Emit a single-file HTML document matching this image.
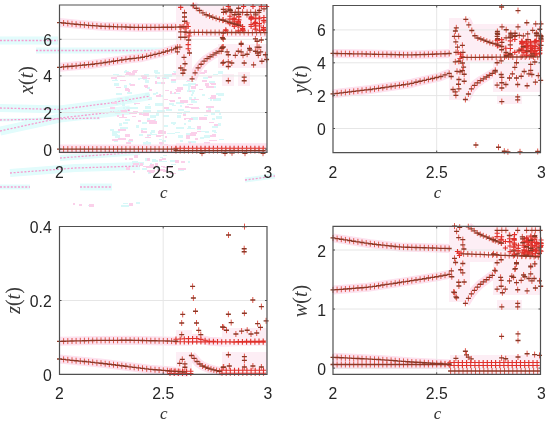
<!DOCTYPE html>
<html><head><meta charset="utf-8"><style>
html,body{margin:0;padding:0;background:#fff;width:550px;height:424px;overflow:hidden}
svg{display:block;filter:blur(0.3px)}
.t{font-family:"Liberation Sans",sans-serif;font-size:15.8px;fill:#262626}
.c{font-family:"Liberation Serif",serif;font-style:italic;font-size:17px;fill:#333}
.yl{font-family:"Liberation Serif",serif;font-size:20px;fill:#3a3a3a}
</style></head><body>
<svg width="550" height="424" viewBox="0 0 550 424">
<rect width="550" height="424" fill="#fff"/>
<path d="M0 108 L60 109.5 L110 103 L150 96" stroke="#e2fcfc" stroke-width="8" fill="none"/>
<path d="M0 131 L60 118 L96 114 L130 110" stroke="#e2fcfc" stroke-width="9" fill="none"/>
<path d="M0 120 L100 118" stroke="#e2fcfc" stroke-width="3" fill="none"/>
<path d="M36 50.5 L175 50.5" stroke="#e2fcfc" stroke-width="6" fill="none"/>
<path d="M0 40.5 L58 40.5" stroke="#e2fcfc" stroke-width="8" fill="none"/>
<path d="M60 158 L140 152" stroke="#e2fcfc" stroke-width="6" fill="none"/>
<path d="M10 173 L75 168 L140 166" stroke="#e2fcfc" stroke-width="8" fill="none"/>
<path d="M0 187 L30 187" stroke="#e2fcfc" stroke-width="5" fill="none"/>
<path d="M80 187 L112 187" stroke="#e2fcfc" stroke-width="7" fill="none"/>
<path d="M245 180 L275 176" stroke="#e2fcfc" stroke-width="5" fill="none"/>
<path d="M0 108 L60 109.5 L110 103 L150 96" stroke="#f59ccf" stroke-width="1.3" stroke-dasharray="2 1.6" fill="none"/>
<path d="M0 131 L60 118 L96 114 L130 110" stroke="#f59ccf" stroke-width="1.3" stroke-dasharray="2 1.6" fill="none"/>
<path d="M0 120 L100 118" stroke="#f59ccf" stroke-width="1.3" stroke-dasharray="2 1.6" fill="none"/>
<path d="M36 50.5 L175 50.5" stroke="#f59ccf" stroke-width="1.3" stroke-dasharray="2 1.6" fill="none"/>
<path d="M0 40.5 L58 40.5" stroke="#f59ccf" stroke-width="1.3" stroke-dasharray="2 1.6" fill="none"/>
<path d="M60 158 L140 152" stroke="#f59ccf" stroke-width="1.3" stroke-dasharray="2 1.6" fill="none"/>
<path d="M10 173 L75 168 L140 166" stroke="#f59ccf" stroke-width="1.3" stroke-dasharray="2 1.6" fill="none"/>
<path d="M0 187 L30 187" stroke="#f59ccf" stroke-width="1.3" stroke-dasharray="2 1.6" fill="none"/>
<path d="M80 187 L112 187" stroke="#f59ccf" stroke-width="1.3" stroke-dasharray="2 1.6" fill="none"/>
<path d="M245 180 L275 176" stroke="#f59ccf" stroke-width="1.3" stroke-dasharray="2 1.6" fill="none"/>
<path d="M200 131h8v1h-8zM123 107h2v2h-2zM173 71h6v1h-6zM212 130h4v2h-4zM180 105h2v2h-2zM197 145h2v2h-2zM129 146h8v2h-8zM117 98h6v2h-6zM130 107h8v2h-8zM215 98h4v1h-4zM150 115h6v3h-6zM180 144h2v2h-2zM149 97h3v3h-3zM175 132h5v1h-5zM158 147h4v1h-4zM144 95h6v1h-6zM191 94h2v2h-2zM194 97h2v2h-2zM122 103h3v3h-3zM218 123h3v3h-3zM162 140h4v2h-4zM178 109h6v2h-6zM174 71h4v2h-4zM215 110h5v2h-5zM204 143h3v2h-3zM187 128h8v1h-8zM128 140h5v2h-5zM132 73h3v3h-3zM156 92h2v2h-2zM219 113h2v2h-2zM216 93h4v2h-4zM156 113h3v3h-3zM127 100h5v2h-5zM180 140h3v2h-3zM165 147h4v2h-4zM112 80h6v1h-6zM176 127h8v2h-8zM186 133h4v2h-4zM173 123h2v2h-2zM112 131h8v2h-8zM204 135h6v3h-6zM187 104h4v1h-4zM126 107h5v2h-5zM169 103h5v2h-5zM193 91h2v1h-2zM148 104h2v1h-2zM115 135h5v3h-5zM186 81h8v1h-8zM115 78h2v2h-2zM127 119h3v2h-3zM139 113h6v2h-6zM200 137h4v2h-4zM124 71h5v2h-5zM208 107h3v3h-3zM125 119h5v2h-5zM147 118h3v2h-3zM213 98h8v3h-8zM191 101h6v2h-6zM145 106h6v3h-6zM114 140h4v2h-4zM123 122h5v2h-5zM188 83h8v2h-8zM183 84h8v2h-8zM192 91h2v3h-2zM212 126h6v2h-6zM213 74h5v1h-5zM155 75h2v3h-2zM144 74h5v3h-5zM188 120h3v2h-3zM214 132h3v1h-3zM206 87h3v1h-3zM163 115h6v2h-6zM188 141h8v2h-8zM171 81h5v2h-5zM145 80h4v3h-4zM145 94h5v2h-5zM113 74h6v1h-6zM124 85h3v3h-3zM191 77h3v2h-3zM146 141h2v2h-2zM216 116h6v3h-6zM189 97h3v3h-3zM202 94h3v2h-3zM114 83h5v3h-5zM166 109h6v2h-6zM167 133h8v1h-8zM184 111h6v1h-6zM143 142h8v3h-8zM163 77h6v2h-6zM154 70h4v3h-4zM212 118h3v2h-3zM138 78h2v2h-2zM155 103h8v3h-8zM157 82h4v2h-4zM157 95h6v2h-6zM188 75h8v2h-8zM149 134h8v1h-8zM156 112h2v2h-2zM125 70h2v2h-2zM153 93h3v2h-3zM172 93h8v1h-8zM116 102h2v3h-2zM150 132h2v3h-2zM162 77h5v1h-5zM164 74h8v3h-8zM112 133h5v3h-5zM134 103h2v2h-2zM142 122h5v2h-5zM119 123h3v3h-3zM112 134h6v1h-6zM147 87h3v2h-3zM140 78h8v1h-8zM211 113h4v2h-4zM164 125h3v2h-3zM136 125h3v3h-3zM172 105h4v1h-4zM218 93h6v3h-6zM179 74h8v1h-8zM125 97h4v3h-4zM210 99h2v2h-2zM197 127h4v3h-4zM154 119h2v2h-2zM208 98h6v1h-6zM113 103h8v1h-8zM191 117h2v1h-2zM143 110h8v3h-8zM124 129h2v2h-2zM110 129h4v2h-4zM157 110h8v3h-8zM212 83h3v2h-3zM209 81h6v2h-6zM171 122h5v2h-5zM143 78h4v2h-4zM164 125h4v2h-4zM115 146h6v2h-6zM187 90h8v2h-8zM145 93h4v1h-4zM117 75h5v1h-5zM122 102h2v3h-2zM184 123h2v2h-2zM119 148h2v1h-2zM141 128h6v2h-6zM193 117h5v3h-5zM188 126h3v3h-3zM176 90h2v2h-2zM116 93h6v2h-6zM151 130h4v3h-4zM110 145h3v1h-3zM183 112h3v3h-3zM115 112h5v2h-5zM129 83h2v2h-2zM213 86h3v2h-3zM126 74h6v1h-6zM188 86h3v1h-3zM135 70h2v2h-2zM191 100h4v2h-4zM188 87h2v3h-2zM155 72h5v2h-5zM177 112h5v2h-5zM218 71h5v3h-5zM198 108h2v1h-2zM120 127h8v2h-8zM205 131h4v2h-4zM114 111h8v1h-8zM127 92h5v2h-5zM143 77h2v3h-2zM219 139h5v1h-5zM147 134h2v3h-2zM139 134h4v2h-4zM204 115h4v1h-4zM176 102h8v2h-8zM159 139h3v1h-3zM177 115h4v3h-4zM191 73h5v2h-5zM183 73h4v3h-4zM178 135h5v3h-5zM203 77h5v2h-5zM150 163h2v3h-2zM145 158h2v3h-2zM132 161h6v3h-6zM178 170h6v1h-6zM156 160h2v2h-2zM188 161h2v2h-2zM170 160h8v2h-8zM171 164h5v1h-5zM149 165h2v2h-2zM148 172h3v2h-3zM159 161h8v1h-8zM160 157h3v1h-3zM142 168h5v2h-5zM138 162h6v3h-6zM163 155h4v1h-4zM152 159h4v3h-4zM157 167h2v2h-2zM89 204h2v1h-2zM88 205h3v1h-3zM136 202h4v2h-4zM121 205h8v2h-8zM123 203h5v1h-5z" fill="#d8f8f8"/>
<path d="M191 132h6v2h-6zM145 86h3v2h-3zM112 102h5v2h-5zM147 135h4v1h-4zM210 97h6v2h-6zM119 117h8v1h-8zM126 145h8v3h-8zM202 80h5v2h-5zM126 142h5v2h-5zM141 130h2v3h-2zM197 131h4v1h-4zM191 99h8v1h-8zM139 146h4v3h-4zM185 106h4v2h-4zM147 120h8v2h-8zM211 83h5v2h-5zM143 113h6v3h-6zM132 116h4v1h-4zM195 84h3v2h-3zM175 89h5v1h-5zM178 97h3v2h-3zM122 114h2v3h-2zM164 107h5v2h-5zM176 90h5v2h-5zM156 95h5v2h-5zM126 72h5v2h-5zM142 131h5v2h-5zM170 91h2v3h-2zM165 136h2v2h-2zM206 106h8v2h-8zM130 84h5v2h-5zM117 115h2v2h-2zM111 77h6v2h-6zM149 121h5v3h-5zM120 80h6v1h-6zM169 100h6v1h-6zM192 77h5v2h-5zM125 134h5v3h-5zM133 73h2v2h-2zM110 107h5v2h-5zM118 138h8v2h-8zM171 79h5v2h-5zM214 124h4v2h-4zM184 118h2v2h-2zM128 89h2v3h-2zM129 73h5v3h-5zM199 146h3v1h-3zM165 90h4v1h-4zM208 76h4v2h-4zM209 122h5v1h-5zM158 135h6v1h-6zM189 91h2v1h-2zM141 75h5v2h-5zM205 143h4v3h-4zM160 143h3v2h-3zM159 130h5v2h-5zM133 70h5v1h-5zM149 89h3v2h-3zM155 81h2v3h-2zM206 86h8v2h-8zM186 136h4v3h-4zM187 78h3v3h-3zM199 72h6v2h-6zM158 131h8v3h-8zM120 98h2v1h-2zM118 129h8v2h-8zM186 135h4v2h-4zM210 83h4v1h-4zM183 114h3v2h-3zM157 77h3v2h-3zM145 137h6v1h-6zM204 70h3v3h-3zM148 99h2v1h-2zM190 133h6v3h-6zM129 139h4v2h-4zM164 144h4v1h-4zM201 149h2v1h-2zM126 146h8v1h-8zM170 100h5v2h-5zM201 72h3v2h-3zM116 87h5v1h-5zM204 142h6v3h-6zM134 103h6v1h-6zM144 85h4v2h-4zM132 71h5v2h-5zM125 88h4v3h-4zM139 113h3v2h-3zM199 89h4v1h-4zM174 92h2v2h-2zM121 110h6v3h-6zM172 73h6v2h-6zM212 134h4v3h-4zM186 118h5v1h-5zM177 87h6v3h-6zM152 121h5v3h-5zM161 82h4v2h-4zM148 78h2v1h-2zM162 78h4v1h-4zM140 114h5v1h-5zM133 111h5v1h-5zM211 95h5v2h-5zM125 74h6v1h-6zM159 142h5v2h-5zM138 120h3v2h-3zM205 83h4v3h-4zM133 72h2v1h-2zM206 110h5v3h-5zM156 135h5v2h-5zM189 118h4v2h-4zM180 100h8v3h-8zM159 94h2v2h-2zM197 126h4v3h-4zM129 140h3v1h-3zM142 76h5v3h-5zM199 117h8v3h-8zM112 139h6v2h-6zM195 138h3v2h-3zM191 86h5v3h-5zM131 112h8v1h-8zM189 104h4v1h-4zM129 112h8v2h-8zM189 107h2v1h-2zM164 99h4v1h-4zM191 107h8v2h-8zM209 140h8v1h-8zM210 135h2v2h-2zM189 142h2v3h-2zM117 76h8v1h-8zM169 148h3v2h-3zM181 161h4v2h-4zM147 158h3v3h-3zM140 163h3v3h-3zM162 158h4v2h-4zM126 167h4v3h-4zM133 171h2v2h-2zM129 158h4v2h-4zM125 158h2v2h-2zM164 170h4v2h-4zM134 155h4v3h-4zM163 167h3v1h-3zM161 166h4v1h-4zM164 167h8v1h-8zM143 166h6v1h-6zM147 170h8v2h-8zM133 163h6v2h-6zM163 171h3v1h-3zM159 159h3v2h-3zM175 160h4v3h-4zM149 171h5v2h-5zM170 173h6v1h-6zM146 166h8v2h-8zM178 168h8v2h-8zM157 169h8v2h-8zM150 164h4v2h-4zM155 163h3v3h-3zM79 204h3v2h-3zM73 203h2v2h-2zM89 204h5v3h-5zM129 203h4v3h-4z" fill="#fbd0ea"/>
<path d="M59.5 22.6 L80.0 24.6 L102.0 26.3 L138.0 27.4 L170.0 27.2 L186.0 26.8" fill="none" stroke="#fde2ef" stroke-width="9" stroke-linejoin="round"/>
<path d="M59.5 67.3 L90.0 64.5 L102.0 63.0 L130.0 58.7 L140.0 57.8 L160.0 53.2 L175.0 48.8 L182.0 46.3" fill="none" stroke="#fde2ef" stroke-width="9" stroke-linejoin="round"/>
<path d="M59.5 149.1 L176.0 149.1" fill="none" stroke="#fde2ef" stroke-width="9" stroke-linejoin="round"/>
<path d="M176.0 148.3 L267.0 148.3" fill="none" stroke="#fde2ef" stroke-width="10" stroke-linejoin="round"/>
<path d="M193.0 5.6 L196.0 8.0 L204.5 14.0 L214.0 17.7 L222.0 20.0 L232.0 23.0 L242.0 26.0" fill="none" stroke="#fde2ef" stroke-width="9" stroke-linejoin="round"/>
<path d="M186.0 32.4 L267.0 32.6" fill="none" stroke="#fde2ef" stroke-width="9" stroke-linejoin="round"/>
<path d="M192.1 78.9 L195.0 73.0 L198.6 67.1 L202.1 63.0 L205.7 59.5 L210.4 56.5 L215.1 53.6 L219.2 51.2 L221.6 50.0" fill="none" stroke="#fde2ef" stroke-width="9" stroke-linejoin="round"/>
<path d="M176 5H267V36H176Z" fill="#fdeef5" stroke="none"/>
<path d="M176 36H192V80H176Z" fill="#fdeef5" stroke="none"/>
<path d="M218 44H267V68H218Z" fill="#fdeef5" stroke="none"/>
<path d="M222 74H234V86H222Z" fill="#fdeef5" stroke="none"/>
<path d="M238 72H250V86H238Z" fill="#fdeef5" stroke="none"/>
<path d="M333.0 53.4 L370.0 54.1 L410.0 54.9 L430.0 54.3 L452.0 53.4" fill="none" stroke="#fde2ef" stroke-width="9" stroke-linejoin="round"/>
<path d="M333.0 93.8 L370.0 89.5 L410.0 83.8 L415.0 82.4 L440.0 76.8 L451.0 72.6" fill="none" stroke="#fde2ef" stroke-width="9" stroke-linejoin="round"/>
<path d="M463.0 57.4 L540.5 56.8" fill="none" stroke="#fde2ef" stroke-width="9" stroke-linejoin="round"/>
<path d="M465.8 19.3 L467.6 22.2 L469.5 26.4 L471.9 30.7 L473.8 34.9 L478.0 38.2 L482.7 39.6 L490.0 42.6 L496.6 44.2 L504.0 47.5" fill="none" stroke="#fde2ef" stroke-width="9" stroke-linejoin="round"/>
<path d="M465.4 99.5 L468.3 94.2 L471.3 88.9 L475.4 84.2 L481.3 80.0 L487.2 76.5 L493.1 73.0 L496.0 71.5" fill="none" stroke="#fde2ef" stroke-width="9" stroke-linejoin="round"/>
<path d="M449 18H470V100H449Z" fill="#fdeef5" stroke="none"/>
<path d="M470 24H541V62H470Z" fill="#fdeef5" stroke="none"/>
<path d="M493 62H541V92H493Z" fill="#fdeef5" stroke="none"/>
<path d="M497 95H522V104H497Z" fill="#fdeef5" stroke="none"/>
<path d="M59.5 341.3 L96.0 340.4 L130.0 340.2 L176.0 341.2" fill="none" stroke="#fde2ef" stroke-width="9" stroke-linejoin="round"/>
<path d="M176.0 339.2 L196.0 338.3 L209.0 341.2 L222.0 341.9 L267.0 341.0" fill="none" stroke="#fde2ef" stroke-width="9" stroke-linejoin="round"/>
<path d="M59.5 359.0 L102.3 363.3 L149.6 369.2 L178.0 371.6 L188.0 372.3" fill="none" stroke="#fde2ef" stroke-width="9" stroke-linejoin="round"/>
<path d="M222.0 370.3 L267.0 370.3" fill="none" stroke="#fde2ef" stroke-width="9" stroke-linejoin="round"/>
<path d="M191.4 355.5 L194.6 358.7 L197.9 362.6 L202.4 365.9 L208.9 368.5 L215.4 370.4 L221.9 371.7" fill="none" stroke="#fde2ef" stroke-width="9" stroke-linejoin="round"/>
<path d="M176 330H192V346H176Z" fill="#fdeef5" stroke="none"/>
<path d="M176 352H192V375H176Z" fill="#fdeef5" stroke="none"/>
<path d="M222 328H267V346H222Z" fill="#fdeef5" stroke="none"/>
<path d="M222 352H267V375H222Z" fill="#fdeef5" stroke="none"/>
<path d="M333.0 237.9 L370.0 243.7 L400.0 247.0 L452.0 248.6" fill="none" stroke="#fde2ef" stroke-width="9" stroke-linejoin="round"/>
<path d="M333.0 289.9 L367.8 287.3 L405.6 281.6 L440.0 276.2 L451.8 273.8" fill="none" stroke="#fde2ef" stroke-width="9" stroke-linejoin="round"/>
<path d="M333.0 357.3 L380.0 359.6 L412.0 362.0 L440.0 363.5 L450.0 364.0" fill="none" stroke="#fde2ef" stroke-width="9" stroke-linejoin="round"/>
<path d="M333.0 364.5 L450.0 364.5" fill="none" stroke="#fde2ef" stroke-width="9" stroke-linejoin="round"/>
<path d="M450.0 362.5 L540.5 362.5" fill="none" stroke="#fde2ef" stroke-width="10" stroke-linejoin="round"/>
<path d="M450.6 371.0 L540.5 371.0" fill="none" stroke="#fde2ef" stroke-width="5" stroke-linejoin="round"/>
<path d="M463.6 253.8 L540.5 256.8" fill="none" stroke="#fde2ef" stroke-width="9" stroke-linejoin="round"/>
<path d="M468.3 226.7 L471.8 229.1 L476.6 232.6 L481.3 235.0 L487.2 237.3 L494.2 240.3 L504.0 244.0" fill="none" stroke="#fde2ef" stroke-width="9" stroke-linejoin="round"/>
<path d="M465.4 303.3 L468.3 298.6 L471.8 293.3 L475.4 289.1 L480.1 284.4 L484.8 280.9 L489.5 277.3 L493.7 274.4" fill="none" stroke="#fde2ef" stroke-width="9" stroke-linejoin="round"/>
<path d="M449 226H470V302H449Z" fill="#fdeef5" stroke="none"/>
<path d="M470 227H541V262H470Z" fill="#fdeef5" stroke="none"/>
<path d="M493 262H541V295H493Z" fill="#fdeef5" stroke="none"/>
<path d="M497 300H522V310H497Z" fill="#fdeef5" stroke="none"/>
<path d="M450 355H541V375H450Z" fill="#fdeef5" stroke="none"/>
<path d="M59.5 39.3H267.0 M59.5 75.9H267.0 M59.5 112.5H267.0 M59.5 149.1H267.0 M163.2 5.0V152.3" stroke="#e6e6e6" stroke-width="1" fill="none"/>
<path d="M333.0 29.9H540.5 M333.0 62.8H540.5 M333.0 95.6H540.5 M333.0 128.5H540.5 M436.7 5.5V152.6" stroke="#e6e6e6" stroke-width="1" fill="none"/>
<path d="M59.5 300.5H267.0 M163.2 226.5V374.4" stroke="#e6e6e6" stroke-width="1" fill="none"/>
<path d="M333.0 250.0H540.5 M333.0 309.0H540.5 M333.0 368.1H540.5 M436.7 226.4V374.3" stroke="#e6e6e6" stroke-width="1" fill="none"/>
<path d="M173.4 148.3h5.2M176.0 145.7v5.2M177.6 148.3h5.2M180.2 145.7v5.2M181.7 148.3h5.2M184.3 145.7v5.2M185.9 148.3h5.2M188.5 145.7v5.2M190.0 148.3h5.2M192.6 145.7v5.2M194.2 148.3h5.2M196.8 145.7v5.2M198.3 148.3h5.2M200.9 145.7v5.2M202.5 148.3h5.2M205.1 145.7v5.2M206.6 148.3h5.2M209.2 145.7v5.2M210.8 148.3h5.2M213.4 145.7v5.2M214.9 148.3h5.2M217.5 145.7v5.2M219.1 148.3h5.2M221.7 145.7v5.2M223.2 148.3h5.2M225.8 145.7v5.2M227.4 148.3h5.2M230.0 145.7v5.2M231.5 148.3h5.2M234.1 145.7v5.2M235.7 148.3h5.2M238.3 145.7v5.2M239.8 148.3h5.2M242.4 145.7v5.2M244.0 148.3h5.2M246.6 145.7v5.2M248.1 148.3h5.2M250.7 145.7v5.2M252.3 148.3h5.2M254.9 145.7v5.2M256.4 148.3h5.2M259.0 145.7v5.2M260.6 148.3h5.2M263.2 145.7v5.2M178.1 7.4h5.2M180.7 4.8v5.2M190.9 5.3h5.2M193.5 2.7v5.2M185.6 26.5h5.2M188.2 23.9v5.2M186.6 32.9h5.2M189.2 30.3v5.2M185.6 44.6h5.2M188.2 42.0v5.2M185.6 48.8h5.2M188.2 46.2v5.2M183.4 28.0h5.2M186.0 25.4v5.2M180.4 26.5h5.2M183.0 23.9v5.2M184.4 23.0h5.2M187.0 20.4v5.2M178.4 27.0h5.2M181.0 24.4v5.2M186.4 36.0h5.2M189.0 33.4v5.2M261.4 22.0h5.2M264.0 19.4v5.2M240.1 30.4h5.2M242.7 27.8v5.2M223.2 29.9h5.2M225.8 27.3v5.2M223.4 30.7h5.2M226.0 28.1v5.2M248.5 24.5h5.2M251.1 21.9v5.2M236.2 20.0h5.2M238.8 17.4v5.2M227.4 16.2h5.2M230.0 13.6v5.2M248.8 17.8h5.2M251.4 15.2v5.2M236.2 16.2h5.2M238.8 13.6v5.2M253.0 18.7h5.2M255.6 16.1v5.2M256.8 23.6h5.2M259.4 21.0v5.2M231.7 21.8h5.2M234.3 19.2v5.2M248.5 19.2h5.2M251.1 16.6v5.2M240.5 30.6h5.2M243.1 28.0v5.2M261.0 29.3h5.2M263.6 26.7v5.2M235.7 30.9h5.2M238.3 28.3v5.2M261.3 17.5h5.2M263.9 14.9v5.2M231.6 19.9h5.2M234.2 17.3v5.2M261.1 20.4h5.2M263.7 17.8v5.2M227.3 19.1h5.2M229.9 16.5v5.2M235.6 21.5h5.2M238.2 18.9v5.2M261.2 30.4h5.2M263.8 27.8v5.2M253.1 18.0h5.2M255.7 15.4v5.2M248.3 18.3h5.2M250.9 15.7v5.2M236.3 19.7h5.2M238.9 17.1v5.2M235.7 25.4h5.2M238.3 22.8v5.2M256.8 30.3h5.2M259.4 27.7v5.2M252.9 22.3h5.2M255.5 19.7v5.2M227.3 23.7h5.2M229.9 21.1v5.2M240.0 26.6h5.2M242.6 24.0v5.2M240.1 29.6h5.2M242.7 27.0v5.2M252.6 18.6h5.2M255.2 16.0v5.2M227.3 23.2h5.2M229.9 20.6v5.2M261.3 20.2h5.2M263.9 17.6v5.2M236.2 17.0h5.2M238.8 14.4v5.2M248.6 16.9h5.2M251.2 14.3v5.2M231.6 24.0h5.2M234.2 21.4v5.2M231.5 18.1h5.2M234.1 15.5v5.2M253.2 25.9h5.2M255.8 23.3v5.2M257.1 18.1h5.2M259.7 15.5v5.2M231.7 23.5h5.2M234.3 20.9v5.2M252.6 29.1h5.2M255.2 26.5v5.2M231.5 18.9h5.2M234.1 16.3v5.2M235.8 21.7h5.2M238.4 19.1v5.2M235.3 24.3h5.2M237.9 21.7v5.2M231.7 26.5h5.2M234.3 23.9v5.2M240.0 28.5h5.2M242.6 25.9v5.2M252.1 23.4h5.2M254.7 20.8v5.2M235.9 22.8h5.2M238.5 20.2v5.2M231.7 24.6h5.2M234.3 22.0v5.2M256.5 18.1h5.2M259.1 15.5v5.2M235.3 25.4h5.2M237.9 22.8v5.2M248.5 26.4h5.2M251.1 23.8v5.2M256.9 26.0h5.2M259.5 23.4v5.2M260.8 27.6h5.2M263.4 25.0v5.2M235.6 23.9h5.2M238.2 21.3v5.2M225.7 6.5h5.2M228.3 3.9v5.2M241.0 6.5h5.2M243.6 3.9v5.2M250.4 6.5h5.2M253.0 3.9v5.2M258.7 6.5h5.2M261.3 3.9v5.2M264.0 6.5h5.2M266.6 3.9v5.2" stroke="#e0302a" stroke-width="1.1" fill="none"/>
<path d="M59.5 19.6v6.0M63.6 20.0v6.0M67.8 20.4v6.0M72.0 20.8v6.0M76.1 21.2v6.0M80.3 21.6v6.0M84.4 21.9v6.0M88.6 22.3v6.0M92.7 22.6v6.0M96.9 22.9v6.0M101.0 23.2v6.0M105.2 23.4v6.0M109.3 23.5v6.0M113.5 23.6v6.0M117.6 23.8v6.0M121.8 23.9v6.0M125.9 24.0v6.0M130.1 24.2v6.0M134.2 24.3v6.0M138.4 24.4v6.0M142.5 24.4v6.0M146.7 24.3v6.0M150.8 24.3v6.0M155.0 24.3v6.0M159.1 24.3v6.0M163.3 24.2v6.0M167.4 24.2v6.0M171.6 24.2v6.0M175.7 24.1v6.0M179.9 24.0v6.0M184.0 23.8v6.0M59.5 64.3v6.0M63.6 63.9v6.0M67.8 63.5v6.0M72.0 63.2v6.0M76.1 62.8v6.0M80.3 62.4v6.0M84.4 62.0v6.0M88.6 61.6v6.0M92.7 61.2v6.0M96.9 60.6v6.0M101.0 60.1v6.0M105.2 59.5v6.0M109.3 58.9v6.0M113.5 58.2v6.0M117.6 57.6v6.0M121.8 57.0v6.0M125.9 56.3v6.0M130.1 55.7v6.0M134.2 55.3v6.0M138.4 54.9v6.0M142.5 54.2v6.0M146.7 53.3v6.0M150.8 52.3v6.0M155.0 51.4v6.0M159.1 50.4v6.0M163.3 49.2v6.0M167.4 48.0v6.0M171.6 46.8v6.0M175.7 45.5v6.0M179.9 44.1v6.0M59.5 146.1v6.0M63.6 146.1v6.0M67.8 146.1v6.0M72.0 146.1v6.0M76.1 146.1v6.0M80.3 146.1v6.0M84.4 146.1v6.0M88.6 146.1v6.0M92.7 146.1v6.0M96.9 146.1v6.0M101.0 146.1v6.0M105.2 146.1v6.0M109.3 146.1v6.0M113.5 146.1v6.0M117.6 146.1v6.0M121.8 146.1v6.0M125.9 146.1v6.0M130.1 146.1v6.0M134.2 146.1v6.0M138.4 146.1v6.0M142.5 146.1v6.0M146.7 146.1v6.0M150.8 146.1v6.0M155.0 146.1v6.0M159.1 146.1v6.0M163.3 146.1v6.0M167.4 146.1v6.0M171.6 146.1v6.0M175.7 146.1v6.0M202.0 150.2v6.0M225.0 150.2v6.0M245.0 150.2v6.0M263.0 150.2v6.0M232.0 149.8v6.0M176.0 147.6v6.0M180.2 147.6v6.0M184.3 147.6v6.0M188.5 147.6v6.0M192.6 147.6v6.0M196.8 147.6v6.0M200.9 147.6v6.0M205.1 147.6v6.0M209.2 147.6v6.0M213.4 147.6v6.0M217.5 147.6v6.0M221.7 147.6v6.0M225.8 147.6v6.0M230.0 147.6v6.0M234.1 147.6v6.0M238.3 147.6v6.0M242.4 147.6v6.0M246.6 147.6v6.0M250.7 147.6v6.0M254.9 147.6v6.0M259.0 147.6v6.0M263.2 147.6v6.0M193.0 2.6v6.0M196.3 5.2v6.0M199.6 7.5v6.0M202.9 9.9v6.0M206.2 11.7v6.0M209.5 12.9v6.0M212.8 14.2v6.0M216.1 15.3v6.0M219.4 16.3v6.0M222.7 17.2v6.0M226.0 18.2v6.0M229.3 19.2v6.0M232.6 20.2v6.0M235.9 21.2v6.0M239.2 22.2v6.0M186.0 29.4v6.0M190.2 29.4v6.0M194.3 29.4v6.0M198.5 29.4v6.0M202.6 29.4v6.0M206.8 29.5v6.0M210.9 29.5v6.0M215.1 29.5v6.0M219.2 29.5v6.0M223.4 29.5v6.0M227.5 29.5v6.0M231.7 29.5v6.0M235.8 29.5v6.0M240.0 29.5v6.0M244.1 29.5v6.0M248.3 29.6v6.0M252.4 29.6v6.0M256.6 29.6v6.0M260.7 29.6v6.0M264.9 29.6v6.0M192.1 75.9v6.0M195.1 69.8v6.0M198.1 64.9v6.0M201.1 61.2v6.0M204.1 58.1v6.0M207.1 55.6v6.0M210.1 53.7v6.0M213.1 51.8v6.0M216.1 50.0v6.0M219.1 48.3v6.0M184.5 9.7v6.0M184.5 14.0v6.0M184.5 18.2v6.0M180.7 28.8v6.0M185.0 28.8v6.0M180.7 34.2v6.0M185.0 34.2v6.0M184.0 54.3v6.0M185.0 60.7v6.0M180.7 65.0v6.0M184.0 67.0v6.0M182.9 70.2v6.0M177.4 44.1v6.0M177.4 48.8v6.0M188.6 37.0v6.0M189.5 50.0v6.0M222.2 44.7v6.0M222.8 60.0v6.0M223.3 6.4v6.0M223.3 17.0v6.0M223.3 30.0v6.0M223.3 36.0v6.0M223.3 44.0v6.0M255.7 11.9v6.0M255.4 11.8v6.0M238.3 9.1v6.0M264.0 5.8v6.0M242.5 9.3v6.0M226.1 8.2v6.0M255.5 9.9v6.0M234.5 11.7v6.0M229.8 6.5v6.0M238.7 11.2v6.0M247.0 11.7v6.0M259.4 7.4v6.0M226.1 8.7v6.0M242.7 9.4v6.0M230.4 7.5v6.0M238.6 5.2v6.0M223.5 9.3v6.0M231.8 9.3v6.0M235.3 9.3v6.0M247.1 9.3v6.0M250.7 9.3v6.0M255.4 9.3v6.0M258.9 9.3v6.0M222.4 34.7v6.0M241.2 41.2v6.0M222.4 44.2v6.0M255.4 35.9v6.0M259.0 44.2v6.0M249.5 45.3v6.0M221.8 45.3v6.0M221.2 48.2v6.0M227.1 48.8v6.0M228.3 51.7v6.0M223.5 59.4v6.0M228.3 58.8v6.0M231.8 60.0v6.0M228.3 63.5v6.0M228.3 77.7v6.0M235.3 52.3v6.0M238.3 48.2v6.0M241.2 48.8v6.0M243.0 52.3v6.0M247.1 51.2v6.0M241.2 40.5v6.0M244.2 60.0v6.0M253.6 61.8v6.0M244.2 74.1v6.0M244.2 77.7v6.0M250.0 47.0v6.0M255.4 48.2v6.0M257.7 50.0v6.0M260.7 48.8v6.0M258.3 52.3v6.0M257.1 38.2v6.0M257.1 44.1v6.0M261.3 37.0v6.0M265.4 51.7v6.0M266.6 56.5v6.0M261.9 58.2v6.0" stroke="#e2574c" stroke-width="1.0" fill="none"/>
<path d="M57.0 22.6h5.0M61.1 23.0h5.0M65.3 23.4h5.0M69.5 23.8h5.0M73.6 24.2h5.0M77.8 24.6h5.0M81.9 24.9h5.0M86.1 25.3h5.0M90.2 25.6h5.0M94.4 25.9h5.0M98.5 26.2h5.0M102.7 26.4h5.0M106.8 26.5h5.0M111.0 26.6h5.0M115.1 26.8h5.0M119.3 26.9h5.0M123.4 27.0h5.0M127.6 27.2h5.0M131.7 27.3h5.0M135.9 27.4h5.0M140.0 27.4h5.0M144.2 27.3h5.0M148.3 27.3h5.0M152.5 27.3h5.0M156.6 27.3h5.0M160.8 27.2h5.0M164.9 27.2h5.0M169.1 27.2h5.0M173.2 27.1h5.0M177.4 27.0h5.0M181.5 26.8h5.0M57.0 67.3h5.0M61.1 66.9h5.0M65.3 66.5h5.0M69.5 66.2h5.0M73.6 65.8h5.0M77.8 65.4h5.0M81.9 65.0h5.0M86.1 64.6h5.0M90.2 64.2h5.0M94.4 63.6h5.0M98.5 63.1h5.0M102.7 62.5h5.0M106.8 61.9h5.0M111.0 61.2h5.0M115.1 60.6h5.0M119.3 60.0h5.0M123.4 59.3h5.0M127.6 58.7h5.0M131.7 58.3h5.0M135.9 57.9h5.0M140.0 57.2h5.0M144.2 56.3h5.0M148.3 55.3h5.0M152.5 54.4h5.0M156.6 53.4h5.0M160.8 52.2h5.0M164.9 51.0h5.0M169.1 49.8h5.0M173.2 48.5h5.0M177.4 47.1h5.0M57.0 149.1h5.0M61.1 149.1h5.0M65.3 149.1h5.0M69.5 149.1h5.0M73.6 149.1h5.0M77.8 149.1h5.0M81.9 149.1h5.0M86.1 149.1h5.0M90.2 149.1h5.0M94.4 149.1h5.0M98.5 149.1h5.0M102.7 149.1h5.0M106.8 149.1h5.0M111.0 149.1h5.0M115.1 149.1h5.0M119.3 149.1h5.0M123.4 149.1h5.0M127.6 149.1h5.0M131.7 149.1h5.0M135.9 149.1h5.0M140.0 149.1h5.0M144.2 149.1h5.0M148.3 149.1h5.0M152.5 149.1h5.0M156.6 149.1h5.0M160.8 149.1h5.0M164.9 149.1h5.0M169.1 149.1h5.0M173.2 149.1h5.0M199.5 153.2h5.0M222.5 153.2h5.0M242.5 153.2h5.0M260.5 153.2h5.0M229.5 152.8h5.0M173.5 150.6h5.0M177.7 150.6h5.0M181.8 150.6h5.0M186.0 150.6h5.0M190.1 150.6h5.0M194.3 150.6h5.0M198.4 150.6h5.0M202.6 150.6h5.0M206.7 150.6h5.0M210.9 150.6h5.0M215.0 150.6h5.0M219.2 150.6h5.0M223.3 150.6h5.0M227.5 150.6h5.0M231.6 150.6h5.0M235.8 150.6h5.0M239.9 150.6h5.0M244.1 150.6h5.0M248.2 150.6h5.0M252.4 150.6h5.0M256.5 150.6h5.0M260.7 150.6h5.0M190.5 5.6h5.0M193.8 8.2h5.0M197.1 10.5h5.0M200.4 12.9h5.0M203.7 14.7h5.0M207.0 15.9h5.0M210.3 17.2h5.0M213.6 18.3h5.0M216.9 19.3h5.0M220.2 20.2h5.0M223.5 21.2h5.0M226.8 22.2h5.0M230.1 23.2h5.0M233.4 24.2h5.0M236.7 25.2h5.0M183.5 32.4h5.0M187.7 32.4h5.0M191.8 32.4h5.0M196.0 32.4h5.0M200.1 32.4h5.0M204.3 32.5h5.0M208.4 32.5h5.0M212.6 32.5h5.0M216.7 32.5h5.0M220.9 32.5h5.0M225.0 32.5h5.0M229.2 32.5h5.0M233.3 32.5h5.0M237.5 32.5h5.0M241.6 32.5h5.0M245.8 32.6h5.0M249.9 32.6h5.0M254.1 32.6h5.0M258.2 32.6h5.0M262.4 32.6h5.0M189.6 78.9h5.0M192.6 72.8h5.0M195.6 67.9h5.0M198.6 64.2h5.0M201.6 61.1h5.0M204.6 58.6h5.0M207.6 56.7h5.0M210.6 54.8h5.0M213.6 53.0h5.0M216.6 51.3h5.0M182.0 12.7h5.0M182.0 17.0h5.0M182.0 21.2h5.0M178.2 31.8h5.0M182.5 31.8h5.0M178.2 37.2h5.0M182.5 37.2h5.0M181.5 57.3h5.0M182.5 63.7h5.0M178.2 68.0h5.0M181.5 70.0h5.0M180.4 73.2h5.0M174.9 47.1h5.0M174.9 51.8h5.0M186.1 40.0h5.0M187.0 53.0h5.0M219.7 47.7h5.0M220.3 63.0h5.0M220.8 9.4h5.0M220.8 20.0h5.0M220.8 33.0h5.0M220.8 39.0h5.0M220.8 47.0h5.0M253.2 14.9h5.0M252.9 14.8h5.0M235.8 12.1h5.0M261.5 8.8h5.0M240.0 12.3h5.0M223.6 11.2h5.0M253.0 12.9h5.0M232.0 14.7h5.0M227.3 9.5h5.0M236.2 14.2h5.0M244.5 14.7h5.0M256.9 10.4h5.0M223.6 11.7h5.0M240.2 12.4h5.0M227.9 10.5h5.0M236.1 8.2h5.0M221.0 12.3h5.0M229.3 12.3h5.0M232.8 12.3h5.0M244.6 12.3h5.0M248.2 12.3h5.0M252.9 12.3h5.0M256.4 12.3h5.0M219.9 37.7h5.0M238.7 44.2h5.0M219.9 47.2h5.0M252.9 38.9h5.0M256.5 47.2h5.0M247.0 48.3h5.0M219.3 48.3h5.0M218.7 51.2h5.0M224.6 51.8h5.0M225.8 54.7h5.0M221.0 62.4h5.0M225.8 61.8h5.0M229.3 63.0h5.0M225.8 66.5h5.0M225.8 80.7h5.0M232.8 55.3h5.0M235.8 51.2h5.0M238.7 51.8h5.0M240.5 55.3h5.0M244.6 54.2h5.0M238.7 43.5h5.0M241.7 63.0h5.0M251.1 64.8h5.0M241.7 77.1h5.0M241.7 80.7h5.0M247.5 50.0h5.0M252.9 51.2h5.0M255.2 53.0h5.0M258.2 51.8h5.0M255.8 55.3h5.0M254.6 41.2h5.0M254.6 47.1h5.0M258.8 40.0h5.0M262.9 54.7h5.0M264.1 59.5h5.0M259.4 61.2h5.0" stroke="#8a3826" stroke-width="1.35" fill="none"/>
<path d="M457.9 54.0h5.2M460.5 51.4v5.2M459.4 56.5h5.2M462.0 53.9v5.2M457.4 58.5h5.2M460.0 55.9v5.2M455.4 52.5h5.2M458.0 49.9v5.2M538.6 41.1h5.2M541.2 38.5v5.2M508.2 55.7h5.2M510.8 53.1v5.2M512.2 52.4h5.2M514.8 49.8v5.2M516.4 51.2h5.2M519.0 48.6v5.2M494.7 40.4h5.2M497.3 37.8v5.2M525.1 46.2h5.2M527.7 43.6v5.2M512.2 39.5h5.2M514.8 36.9v5.2M499.1 39.6h5.2M501.7 37.0v5.2M529.5 52.4h5.2M532.1 49.8v5.2M503.5 56.0h5.2M506.1 53.4v5.2M529.9 50.7h5.2M532.5 48.1v5.2M525.3 50.7h5.2M527.9 48.1v5.2M507.8 48.5h5.2M510.4 45.9v5.2M529.7 47.9h5.2M532.3 45.3v5.2M529.4 50.4h5.2M532.0 47.8v5.2M533.7 53.5h5.2M536.3 50.9v5.2M529.6 48.7h5.2M532.2 46.1v5.2M507.8 40.9h5.2M510.4 38.3v5.2M494.9 39.5h5.2M497.5 36.9v5.2M494.8 45.8h5.2M497.4 43.2v5.2M533.6 40.6h5.2M536.2 38.0v5.2M503.2 48.2h5.2M505.8 45.6v5.2M521.2 52.6h5.2M523.8 50.0v5.2M520.7 47.0h5.2M523.3 44.4v5.2M503.4 54.3h5.2M506.0 51.7v5.2M532.5 41.6h5.2M535.1 39.0v5.2M532.5 55.1h5.2M535.1 52.5v5.2M523.9 55.9h5.2M526.5 53.3v5.2M519.2 43.5h5.2M521.8 40.9v5.2M528.0 45.7h5.2M530.6 43.1v5.2M536.8 48.0h5.2M539.4 45.4v5.2M536.5 48.2h5.2M539.1 45.6v5.2M528.3 51.4h5.2M530.9 48.8v5.2M532.1 50.2h5.2M534.7 47.6v5.2M536.9 48.7h5.2M539.5 46.1v5.2M536.9 48.5h5.2M539.5 45.9v5.2M536.9 53.9h5.2M539.5 51.3v5.2M524.1 50.2h5.2M526.7 47.6v5.2M528.4 45.0h5.2M531.0 42.4v5.2M528.4 43.0h5.2M531.0 40.4v5.2M524.1 42.0h5.2M526.7 39.4v5.2M523.5 41.3h5.2M526.1 38.7v5.2M532.1 53.5h5.2M534.7 50.9v5.2M532.5 51.4h5.2M535.1 48.8v5.2M523.7 51.1h5.2M526.3 48.5v5.2M519.1 49.2h5.2M521.7 46.6v5.2M528.4 55.8h5.2M531.0 53.2v5.2M519.6 50.3h5.2M522.2 47.7v5.2M528.1 51.1h5.2M530.7 48.5v5.2M524.0 47.8h5.2M526.6 45.2v5.2M519.0 48.9h5.2M521.6 46.3v5.2M537.1 47.7h5.2M539.7 45.1v5.2M523.5 43.2h5.2M526.1 40.6v5.2M524.1 55.1h5.2M526.7 52.5v5.2M519.5 42.0h5.2M522.1 39.4v5.2M532.1 41.4h5.2M534.7 38.8v5.2M532.4 48.3h5.2M535.0 45.7v5.2M532.2 46.0h5.2M534.8 43.4v5.2M519.7 42.8h5.2M522.3 40.2v5.2M532.3 45.9h5.2M534.9 43.3v5.2M523.8 41.4h5.2M526.4 38.8v5.2M519.3 41.2h5.2M521.9 38.6v5.2M532.5 43.0h5.2M535.1 40.4v5.2M537.2 53.1h5.2M539.8 50.5v5.2M527.9 41.7h5.2M530.5 39.1v5.2M524.0 46.5h5.2M526.6 43.9v5.2M528.4 51.3h5.2M531.0 48.7v5.2M532.7 46.5h5.2M535.3 43.9v5.2M523.4 45.4h5.2M526.0 42.8v5.2M532.1 54.5h5.2M534.7 51.9v5.2M536.4 44.3h5.2M539.0 41.7v5.2M528.0 50.7h5.2M530.6 48.1v5.2M536.5 41.1h5.2M539.1 38.5v5.2M537.2 50.4h5.2M539.8 47.8v5.2M519.6 56.0h5.2M522.2 53.4v5.2M519.1 41.6h5.2M521.7 39.0v5.2M523.6 46.4h5.2M526.2 43.8v5.2M519.6 50.5h5.2M522.2 47.9v5.2M519.1 43.9h5.2M521.7 41.3v5.2M528.1 48.2h5.2M530.7 45.6v5.2" stroke="#e0302a" stroke-width="1.1" fill="none"/>
<path d="M333.0 50.4v6.0M337.1 50.5v6.0M341.3 50.6v6.0M345.4 50.6v6.0M349.6 50.7v6.0M353.7 50.8v6.0M357.9 50.9v6.0M362.0 50.9v6.0M366.2 51.0v6.0M370.3 51.1v6.0M374.5 51.2v6.0M378.6 51.3v6.0M382.8 51.4v6.0M386.9 51.4v6.0M391.1 51.5v6.0M395.2 51.6v6.0M399.4 51.7v6.0M403.5 51.8v6.0M407.7 51.9v6.0M411.8 51.8v6.0M416.0 51.7v6.0M420.1 51.6v6.0M424.3 51.5v6.0M428.4 51.3v6.0M432.6 51.2v6.0M436.7 51.0v6.0M440.9 50.9v6.0M445.0 50.7v6.0M449.2 50.5v6.0M333.0 90.8v6.0M337.1 90.3v6.0M341.3 89.8v6.0M345.4 89.4v6.0M349.6 88.9v6.0M353.7 88.4v6.0M357.9 87.9v6.0M362.0 87.4v6.0M366.2 86.9v6.0M370.3 86.5v6.0M374.5 85.9v6.0M378.6 85.3v6.0M382.8 84.7v6.0M386.9 84.1v6.0M391.1 83.5v6.0M395.2 82.9v6.0M399.4 82.3v6.0M403.5 81.7v6.0M407.7 81.1v6.0M411.8 80.3v6.0M416.0 79.2v6.0M420.1 78.2v6.0M424.3 77.3v6.0M428.4 76.4v6.0M432.6 75.5v6.0M436.7 74.5v6.0M440.9 73.5v6.0M445.0 71.9v6.0M449.2 70.3v6.0M463.0 54.4v6.0M467.1 54.4v6.0M471.3 54.3v6.0M475.4 54.3v6.0M479.6 54.3v6.0M483.7 54.2v6.0M487.9 54.2v6.0M492.0 54.2v6.0M496.2 54.1v6.0M500.3 54.1v6.0M504.5 54.1v6.0M508.6 54.0v6.0M512.8 54.0v6.0M516.9 54.0v6.0M521.1 54.0v6.0M525.2 53.9v6.0M529.4 53.9v6.0M533.5 53.9v6.0M537.7 53.8v6.0M465.8 16.3v6.0M468.8 21.9v6.0M471.8 27.5v6.0M474.8 32.7v6.0M477.8 35.0v6.0M480.8 36.0v6.0M483.8 37.1v6.0M486.8 38.3v6.0M489.8 39.5v6.0M492.8 40.3v6.0M495.8 41.0v6.0M498.8 42.2v6.0M501.8 43.5v6.0M465.4 96.5v6.0M468.4 91.0v6.0M471.4 85.8v6.0M474.4 82.3v6.0M477.4 79.8v6.0M480.4 77.6v6.0M483.4 75.8v6.0M486.4 74.0v6.0M489.4 72.2v6.0M492.4 70.4v6.0M495.4 68.8v6.0M456.3 24.8v6.0M455.4 28.0v6.0M455.8 38.8v6.0M457.5 44.1v6.0M456.0 49.4v6.0M455.3 58.8v6.0M458.9 58.2v6.0M457.0 68.3v6.0M458.9 76.5v6.0M458.5 81.2v6.0M458.9 85.9v6.0M462.4 42.3v6.0M463.0 49.4v6.0M462.4 60.0v6.0M463.6 64.1v6.0M462.4 67.6v6.0M464.2 71.2v6.0M464.2 78.2v6.0M454.4 33.3v6.0M458.7 33.3v6.0M453.0 86.5v6.0M455.3 88.8v6.0M455.9 92.4v6.0M451.2 73.5v6.0M460.0 68.8v6.0M458.9 58.2v6.0M501.6 4.0v6.0M518.0 7.6v6.0M502.0 23.8v6.0M506.2 26.7v6.0M518.0 23.8v6.0M526.8 19.7v6.0M535.7 20.8v6.0M541.0 20.8v6.0M497.4 28.5v6.0M532.7 27.3v6.0M539.8 26.2v6.0M514.9 32.6v6.0M510.8 30.2v6.0M536.7 32.7v6.0M497.3 30.4v6.0M536.3 30.6v6.0M519.3 32.4v6.0M510.3 33.8v6.0M510.6 34.7v6.0M510.8 32.0v6.0M536.9 30.9v6.0M506.1 34.9v6.0M497.6 35.7v6.0M515.1 30.2v6.0M527.7 30.9v6.0M523.4 32.9v6.0M540.8 35.0v6.0M536.5 30.0v6.0M497.2 33.4v6.0M541.1 33.2v6.0M514.9 33.2v6.0M540.6 32.5v6.0M497.6 31.2v6.0M506.3 52.7v6.0M501.7 46.7v6.0M541.0 42.3v6.0M501.9 39.4v6.0M527.7 48.1v6.0M527.9 36.6v6.0M510.3 41.9v6.0M532.2 52.9v6.0M506.0 49.5v6.0M510.1 51.9v6.0M523.2 43.7v6.0M541.2 36.1v6.0M532.3 50.9v6.0M519.1 47.1v6.0M510.1 50.7v6.0M497.1 59.7v6.0M501.2 57.9v6.0M516.5 59.7v6.0M530.7 61.4v6.0M534.8 59.0v6.0M495.3 67.3v6.0M514.8 64.4v6.0M524.2 68.5v6.0M530.7 67.3v6.0M501.2 71.5v6.0M501.8 74.4v6.0M512.4 70.9v6.0M509.5 75.0v6.0M516.5 75.0v6.0M521.2 73.2v6.0M528.9 70.9v6.0M531.9 71.5v6.0M538.3 72.6v6.0M540.7 77.4v6.0M497.1 82.1v6.0M501.8 79.7v6.0M505.9 81.5v6.0M501.8 85.0v6.0M517.7 81.5v6.0M527.1 82.7v6.0M535.4 79.1v6.0M517.7 93.9v6.0M517.7 96.8v6.0M501.8 98.6v6.0M475.9 142.0v6.0M498.5 144.2v6.0M504.3 148.2v6.0M507.9 148.8v6.0M520.0 148.8v6.0M537.7 148.5v6.0" stroke="#e2574c" stroke-width="1.0" fill="none"/>
<path d="M330.5 53.4h5.0M334.6 53.5h5.0M338.8 53.6h5.0M342.9 53.6h5.0M347.1 53.7h5.0M351.2 53.8h5.0M355.4 53.9h5.0M359.5 53.9h5.0M363.7 54.0h5.0M367.8 54.1h5.0M372.0 54.2h5.0M376.1 54.3h5.0M380.3 54.4h5.0M384.4 54.4h5.0M388.6 54.5h5.0M392.7 54.6h5.0M396.9 54.7h5.0M401.0 54.8h5.0M405.2 54.9h5.0M409.3 54.8h5.0M413.5 54.7h5.0M417.6 54.6h5.0M421.8 54.5h5.0M425.9 54.3h5.0M430.1 54.2h5.0M434.2 54.0h5.0M438.4 53.9h5.0M442.5 53.7h5.0M446.7 53.5h5.0M330.5 93.8h5.0M334.6 93.3h5.0M338.8 92.8h5.0M342.9 92.4h5.0M347.1 91.9h5.0M351.2 91.4h5.0M355.4 90.9h5.0M359.5 90.4h5.0M363.7 89.9h5.0M367.8 89.5h5.0M372.0 88.9h5.0M376.1 88.3h5.0M380.3 87.7h5.0M384.4 87.1h5.0M388.6 86.5h5.0M392.7 85.9h5.0M396.9 85.3h5.0M401.0 84.7h5.0M405.2 84.1h5.0M409.3 83.3h5.0M413.5 82.2h5.0M417.6 81.2h5.0M421.8 80.3h5.0M425.9 79.4h5.0M430.1 78.5h5.0M434.2 77.5h5.0M438.4 76.5h5.0M442.5 74.9h5.0M446.7 73.3h5.0M460.5 57.4h5.0M464.6 57.4h5.0M468.8 57.3h5.0M472.9 57.3h5.0M477.1 57.3h5.0M481.2 57.2h5.0M485.4 57.2h5.0M489.5 57.2h5.0M493.7 57.1h5.0M497.8 57.1h5.0M502.0 57.1h5.0M506.1 57.0h5.0M510.3 57.0h5.0M514.4 57.0h5.0M518.6 57.0h5.0M522.7 56.9h5.0M526.9 56.9h5.0M531.0 56.9h5.0M535.2 56.8h5.0M463.3 19.3h5.0M466.3 24.9h5.0M469.3 30.5h5.0M472.3 35.7h5.0M475.3 38.0h5.0M478.3 39.0h5.0M481.3 40.1h5.0M484.3 41.3h5.0M487.3 42.5h5.0M490.3 43.3h5.0M493.3 44.0h5.0M496.3 45.2h5.0M499.3 46.5h5.0M462.9 99.5h5.0M465.9 94.0h5.0M468.9 88.8h5.0M471.9 85.3h5.0M474.9 82.8h5.0M477.9 80.6h5.0M480.9 78.8h5.0M483.9 77.0h5.0M486.9 75.2h5.0M489.9 73.4h5.0M492.9 71.8h5.0M453.8 27.8h5.0M452.9 31.0h5.0M453.3 41.8h5.0M455.0 47.1h5.0M453.5 52.4h5.0M452.8 61.8h5.0M456.4 61.2h5.0M454.5 71.3h5.0M456.4 79.5h5.0M456.0 84.2h5.0M456.4 88.9h5.0M459.9 45.3h5.0M460.5 52.4h5.0M459.9 63.0h5.0M461.1 67.1h5.0M459.9 70.6h5.0M461.7 74.2h5.0M461.7 81.2h5.0M451.9 36.3h5.0M456.2 36.3h5.0M450.5 89.5h5.0M452.8 91.8h5.0M453.4 95.4h5.0M448.7 76.5h5.0M457.5 71.8h5.0M456.4 61.2h5.0M499.1 7.0h5.0M515.5 10.6h5.0M499.5 26.8h5.0M503.7 29.7h5.0M515.5 26.8h5.0M524.3 22.7h5.0M533.2 23.8h5.0M538.5 23.8h5.0M494.9 31.5h5.0M530.2 30.3h5.0M537.3 29.2h5.0M512.4 35.6h5.0M508.3 33.2h5.0M534.2 35.7h5.0M494.8 33.4h5.0M533.8 33.6h5.0M516.8 35.4h5.0M507.8 36.8h5.0M508.1 37.7h5.0M508.3 35.0h5.0M534.4 33.9h5.0M503.6 37.9h5.0M495.1 38.7h5.0M512.6 33.2h5.0M525.2 33.9h5.0M520.9 35.9h5.0M538.3 38.0h5.0M534.0 33.0h5.0M494.7 36.4h5.0M538.6 36.2h5.0M512.4 36.2h5.0M538.1 35.5h5.0M495.1 34.2h5.0M503.8 55.7h5.0M499.2 49.7h5.0M538.5 45.3h5.0M499.4 42.4h5.0M525.2 51.1h5.0M525.4 39.6h5.0M507.8 44.9h5.0M529.7 55.9h5.0M503.5 52.5h5.0M507.6 54.9h5.0M520.7 46.7h5.0M538.7 39.1h5.0M529.8 53.9h5.0M516.6 50.1h5.0M507.6 53.7h5.0M494.6 62.7h5.0M498.7 60.9h5.0M514.0 62.7h5.0M528.2 64.4h5.0M532.3 62.0h5.0M492.8 70.3h5.0M512.3 67.4h5.0M521.7 71.5h5.0M528.2 70.3h5.0M498.7 74.5h5.0M499.3 77.4h5.0M509.9 73.9h5.0M507.0 78.0h5.0M514.0 78.0h5.0M518.7 76.2h5.0M526.4 73.9h5.0M529.4 74.5h5.0M535.8 75.6h5.0M538.2 80.4h5.0M494.6 85.1h5.0M499.3 82.7h5.0M503.4 84.5h5.0M499.3 88.0h5.0M515.2 84.5h5.0M524.6 85.7h5.0M532.9 82.1h5.0M515.2 96.9h5.0M515.2 99.8h5.0M499.3 101.6h5.0M473.4 145.0h5.0M496.0 147.2h5.0M501.8 151.2h5.0M505.4 151.8h5.0M517.5 151.8h5.0M535.2 151.5h5.0" stroke="#8a3826" stroke-width="1.35" fill="none"/>
<path d="M173.4 339.2h5.2M176.0 336.6v5.2M177.6 339.0h5.2M180.2 336.4v5.2M181.7 338.8h5.2M184.3 336.2v5.2M185.9 338.6h5.2M188.5 336.0v5.2M190.0 338.5h5.2M192.6 335.9v5.2M194.2 338.5h5.2M196.8 335.9v5.2M198.3 339.4h5.2M200.9 336.8v5.2M202.5 340.3h5.2M205.1 337.7v5.2M206.6 341.2h5.2M209.2 338.6v5.2M210.8 341.4h5.2M213.4 338.8v5.2M214.9 341.7h5.2M217.5 339.1v5.2M219.1 341.9h5.2M221.7 339.3v5.2M223.2 341.8h5.2M225.8 339.2v5.2M227.4 341.7h5.2M230.0 339.1v5.2M231.5 341.7h5.2M234.1 339.1v5.2M235.7 341.6h5.2M238.3 339.0v5.2M239.8 341.5h5.2M242.4 338.9v5.2M244.0 341.4h5.2M246.6 338.8v5.2M248.1 341.3h5.2M250.7 338.7v5.2M252.3 341.2h5.2M254.9 338.6v5.2M256.4 341.2h5.2M259.0 338.6v5.2M260.6 341.1h5.2M263.2 338.5v5.2M173.4 341.8h5.2M176.0 339.2v5.2M177.6 341.8h5.2M180.2 339.2v5.2M181.7 341.8h5.2M184.3 339.2v5.2M185.9 341.9h5.2M188.5 339.3v5.2M190.0 341.9h5.2M192.6 339.3v5.2M194.2 341.9h5.2M196.8 339.3v5.2M198.3 341.9h5.2M200.9 339.3v5.2M202.5 341.9h5.2M205.1 339.3v5.2M206.6 341.9h5.2M209.2 339.3v5.2M210.8 342.0h5.2M213.4 339.4v5.2M214.9 342.0h5.2M217.5 339.4v5.2M219.1 342.0h5.2M221.7 339.4v5.2M223.2 342.0h5.2M225.8 339.4v5.2M227.4 342.0h5.2M230.0 339.4v5.2M231.5 342.1h5.2M234.1 339.5v5.2M235.7 342.1h5.2M238.3 339.5v5.2M239.8 342.1h5.2M242.4 339.5v5.2M244.0 342.1h5.2M246.6 339.5v5.2M248.1 342.1h5.2M250.7 339.5v5.2M252.3 342.1h5.2M254.9 339.5v5.2M256.4 342.2h5.2M259.0 339.6v5.2M260.6 342.2h5.2M263.2 339.6v5.2M167.4 371.2h5.2M170.0 368.6v5.2M171.6 371.2h5.2M174.2 368.6v5.2M175.7 371.2h5.2M178.3 368.6v5.2M179.9 371.2h5.2M182.5 368.6v5.2M184.0 371.2h5.2M186.6 368.6v5.2M188.2 371.2h5.2M190.8 368.6v5.2M167.4 373.5h5.2M170.0 370.9v5.2M171.6 373.5h5.2M174.2 370.9v5.2M175.7 373.5h5.2M178.3 370.9v5.2M179.9 373.5h5.2M182.5 370.9v5.2M184.0 373.5h5.2M186.6 370.9v5.2M188.2 373.5h5.2M190.8 370.9v5.2M219.4 370.3h5.2M222.0 367.7v5.2M223.6 370.3h5.2M226.2 367.7v5.2M227.7 370.3h5.2M230.3 367.7v5.2M231.9 370.3h5.2M234.5 367.7v5.2M236.0 370.3h5.2M238.6 367.7v5.2M240.2 370.3h5.2M242.8 367.7v5.2M244.3 370.3h5.2M246.9 367.7v5.2M248.5 370.3h5.2M251.1 367.7v5.2M252.6 370.3h5.2M255.2 367.7v5.2M256.8 370.3h5.2M259.4 367.7v5.2M260.9 370.3h5.2M263.5 367.7v5.2M219.4 373.2h5.2M222.0 370.6v5.2M223.6 373.2h5.2M226.2 370.6v5.2M227.7 373.2h5.2M230.3 370.6v5.2M231.9 373.2h5.2M234.5 370.6v5.2M236.0 373.2h5.2M238.6 370.6v5.2M240.2 373.2h5.2M242.8 370.6v5.2M244.3 373.2h5.2M246.9 370.6v5.2M248.5 373.2h5.2M251.1 370.6v5.2M252.6 373.2h5.2M255.2 370.6v5.2M256.8 373.2h5.2M259.4 370.6v5.2M260.9 373.2h5.2M263.5 370.6v5.2" stroke="#e0302a" stroke-width="1.1" fill="none"/>
<path d="M59.5 338.3v6.0M63.6 338.2v6.0M67.8 338.1v6.0M72.0 338.0v6.0M76.1 337.9v6.0M80.3 337.8v6.0M84.4 337.7v6.0M88.6 337.6v6.0M92.7 337.5v6.0M96.9 337.4v6.0M101.0 337.4v6.0M105.2 337.3v6.0M109.3 337.3v6.0M113.5 337.3v6.0M117.6 337.3v6.0M121.8 337.2v6.0M125.9 337.2v6.0M130.1 337.2v6.0M134.2 337.3v6.0M138.4 337.4v6.0M142.5 337.5v6.0M146.7 337.6v6.0M150.8 337.7v6.0M155.0 337.7v6.0M159.1 337.8v6.0M163.3 337.9v6.0M167.4 338.0v6.0M171.6 338.1v6.0M175.7 338.2v6.0M59.5 356.0v6.0M63.6 356.4v6.0M67.8 356.8v6.0M72.0 357.3v6.0M76.1 357.7v6.0M80.3 358.1v6.0M84.4 358.5v6.0M88.6 358.9v6.0M92.7 359.3v6.0M96.9 359.8v6.0M101.0 360.2v6.0M105.2 360.7v6.0M109.3 361.2v6.0M113.5 361.7v6.0M117.6 362.2v6.0M121.8 362.7v6.0M125.9 363.2v6.0M130.1 363.8v6.0M134.2 364.3v6.0M138.4 364.8v6.0M142.5 365.3v6.0M146.7 365.8v6.0M150.8 366.3v6.0M155.0 366.7v6.0M159.1 367.0v6.0M163.3 367.4v6.0M167.4 367.7v6.0M171.6 368.1v6.0M175.7 368.4v6.0M179.9 368.7v6.0M184.0 369.0v6.0M191.4 352.5v6.0M194.2 355.3v6.0M197.0 358.5v6.0M199.8 361.0v6.0M202.6 363.0v6.0M205.4 364.1v6.0M208.2 365.2v6.0M211.0 366.1v6.0M213.8 366.9v6.0M216.6 367.6v6.0M219.4 368.2v6.0M244.5 223.6v6.0M228.5 232.0v6.0M244.2 245.7v6.0M244.2 248.7v6.0M192.6 283.4v6.0M193.4 295.0v6.0M182.7 311.4v6.0M195.5 308.2v6.0M181.7 320.0v6.0M196.5 320.0v6.0M198.7 327.3v6.0M200.8 331.6v6.0M181.7 331.6v6.0M222.5 324.0v6.0M252.8 297.0v6.0M261.4 303.6v6.0M266.1 317.8v6.0M228.4 311.2v6.0M244.4 310.2v6.0M223.7 324.4v6.0M231.2 319.6v6.0M226.5 327.2v6.0M257.6 320.6v6.0M260.5 324.4v6.0M235.9 331.0v6.0M241.6 328.1v6.0M247.2 327.2v6.0M251.0 331.0v6.0M256.7 330.0v6.0M228.4 351.7v6.0M244.4 353.6v6.0M244.4 357.4v6.0M223.7 364.0v6.0M229.3 363.0v6.0M244.4 364.0v6.0M252.9 363.0v6.0M261.4 364.0v6.0M182.3 356.4v6.0M179.7 360.3v6.0M184.9 360.9v6.0M184.9 364.2v6.0M223.2 364.2v6.0" stroke="#e2574c" stroke-width="1.0" fill="none"/>
<path d="M57.0 341.3h5.0M61.1 341.2h5.0M65.3 341.1h5.0M69.5 341.0h5.0M73.6 340.9h5.0M77.8 340.8h5.0M81.9 340.7h5.0M86.1 340.6h5.0M90.2 340.5h5.0M94.4 340.4h5.0M98.5 340.4h5.0M102.7 340.3h5.0M106.8 340.3h5.0M111.0 340.3h5.0M115.1 340.3h5.0M119.3 340.2h5.0M123.4 340.2h5.0M127.6 340.2h5.0M131.7 340.3h5.0M135.9 340.4h5.0M140.0 340.5h5.0M144.2 340.6h5.0M148.3 340.7h5.0M152.5 340.7h5.0M156.6 340.8h5.0M160.8 340.9h5.0M164.9 341.0h5.0M169.1 341.1h5.0M173.2 341.2h5.0M57.0 359.0h5.0M61.1 359.4h5.0M65.3 359.8h5.0M69.5 360.3h5.0M73.6 360.7h5.0M77.8 361.1h5.0M81.9 361.5h5.0M86.1 361.9h5.0M90.2 362.3h5.0M94.4 362.8h5.0M98.5 363.2h5.0M102.7 363.7h5.0M106.8 364.2h5.0M111.0 364.7h5.0M115.1 365.2h5.0M119.3 365.7h5.0M123.4 366.2h5.0M127.6 366.8h5.0M131.7 367.3h5.0M135.9 367.8h5.0M140.0 368.3h5.0M144.2 368.8h5.0M148.3 369.3h5.0M152.5 369.7h5.0M156.6 370.0h5.0M160.8 370.4h5.0M164.9 370.7h5.0M169.1 371.1h5.0M173.2 371.4h5.0M177.4 371.7h5.0M181.5 372.0h5.0M188.9 355.5h5.0M191.7 358.3h5.0M194.5 361.5h5.0M197.3 364.0h5.0M200.1 366.0h5.0M202.9 367.1h5.0M205.7 368.2h5.0M208.5 369.1h5.0M211.3 369.9h5.0M214.1 370.6h5.0M216.9 371.2h5.0M242.0 226.6h5.0M226.0 235.0h5.0M241.7 248.7h5.0M241.7 251.7h5.0M190.1 286.4h5.0M190.9 298.0h5.0M180.2 314.4h5.0M193.0 311.2h5.0M179.2 323.0h5.0M194.0 323.0h5.0M196.2 330.3h5.0M198.3 334.6h5.0M179.2 334.6h5.0M220.0 327.0h5.0M250.3 300.0h5.0M258.9 306.6h5.0M263.6 320.8h5.0M225.9 314.2h5.0M241.9 313.2h5.0M221.2 327.4h5.0M228.7 322.6h5.0M224.0 330.2h5.0M255.1 323.6h5.0M258.0 327.4h5.0M233.4 334.0h5.0M239.1 331.1h5.0M244.7 330.2h5.0M248.5 334.0h5.0M254.2 333.0h5.0M225.9 354.7h5.0M241.9 356.6h5.0M241.9 360.4h5.0M221.2 367.0h5.0M226.8 366.0h5.0M241.9 367.0h5.0M250.4 366.0h5.0M258.9 367.0h5.0M179.8 359.4h5.0M177.2 363.3h5.0M182.4 363.9h5.0M182.4 367.2h5.0M220.7 367.2h5.0" stroke="#8a3826" stroke-width="1.35" fill="none"/>
<path d="M447.4 362.5h5.2M450.0 359.9v5.2M451.5 362.5h5.2M454.1 359.9v5.2M455.7 362.5h5.2M458.3 359.9v5.2M459.8 362.5h5.2M462.4 359.9v5.2M464.0 362.5h5.2M466.6 359.9v5.2M468.1 362.5h5.2M470.7 359.9v5.2M472.3 362.5h5.2M474.9 359.9v5.2M476.4 362.5h5.2M479.0 359.9v5.2M480.6 362.5h5.2M483.2 359.9v5.2M484.7 362.5h5.2M487.3 359.9v5.2M488.9 362.5h5.2M491.5 359.9v5.2M493.0 362.5h5.2M495.6 359.9v5.2M497.2 362.5h5.2M499.8 359.9v5.2M501.3 362.5h5.2M503.9 359.9v5.2M505.5 362.5h5.2M508.1 359.9v5.2M509.6 362.5h5.2M512.2 359.9v5.2M513.8 362.5h5.2M516.4 359.9v5.2M517.9 362.5h5.2M520.5 359.9v5.2M522.1 362.5h5.2M524.7 359.9v5.2M526.2 362.5h5.2M528.8 359.9v5.2M530.4 362.5h5.2M533.0 359.9v5.2M534.5 362.5h5.2M537.1 359.9v5.2M447.4 365.5h5.2M450.0 362.9v5.2M451.5 365.5h5.2M454.1 362.9v5.2M455.7 365.5h5.2M458.3 362.9v5.2M459.8 365.5h5.2M462.4 362.9v5.2M464.0 365.5h5.2M466.6 362.9v5.2M468.1 365.5h5.2M470.7 362.9v5.2M472.3 365.5h5.2M474.9 362.9v5.2M476.4 365.5h5.2M479.0 362.9v5.2M480.6 365.5h5.2M483.2 362.9v5.2M484.7 365.5h5.2M487.3 362.9v5.2M488.9 365.5h5.2M491.5 362.9v5.2M493.0 365.5h5.2M495.6 362.9v5.2M497.2 365.5h5.2M499.8 362.9v5.2M501.3 365.5h5.2M503.9 362.9v5.2M505.5 365.5h5.2M508.1 362.9v5.2M509.6 365.5h5.2M512.2 362.9v5.2M513.8 365.5h5.2M516.4 362.9v5.2M517.9 365.5h5.2M520.5 362.9v5.2M522.1 365.5h5.2M524.7 362.9v5.2M526.2 365.5h5.2M528.8 362.9v5.2M530.4 365.5h5.2M533.0 362.9v5.2M534.5 365.5h5.2M537.1 362.9v5.2M456.3 253.3h5.2M458.9 250.7v5.2M454.9 251.5h5.2M457.5 248.9v5.2M456.9 255.5h5.2M459.5 252.9v5.2M458.4 253.0h5.2M461.0 250.4v5.2M494.4 236.6h5.2M497.0 234.0v5.2M515.5 248.4h5.2M518.1 245.8v5.2M524.0 247.7h5.2M526.6 245.1v5.2M536.4 250.9h5.2M539.0 248.3v5.2M528.4 236.2h5.2M531.0 233.6v5.2M511.5 238.5h5.2M514.1 235.9v5.2M498.7 240.1h5.2M501.3 237.5v5.2M528.2 241.3h5.2M530.8 238.7v5.2M511.4 249.7h5.2M514.0 247.1v5.2M532.1 239.4h5.2M534.7 236.8v5.2M506.9 238.7h5.2M509.5 236.1v5.2M536.8 253.2h5.2M539.4 250.6v5.2M494.6 233.2h5.2M497.2 230.6v5.2M511.2 247.3h5.2M513.8 244.7v5.2M498.5 239.4h5.2M501.1 236.8v5.2M499.0 236.7h5.2M501.6 234.1v5.2M507.2 241.6h5.2M509.8 239.0v5.2M523.8 240.8h5.2M526.4 238.2v5.2M524.1 252.3h5.2M526.7 249.7v5.2M498.9 243.3h5.2M501.5 240.7v5.2M532.6 250.7h5.2M535.2 248.1v5.2M523.8 238.9h5.2M526.4 236.3v5.2M502.8 248.0h5.2M505.4 245.4v5.2M532.2 245.6h5.2M534.8 243.0v5.2M502.8 241.5h5.2M505.4 238.9v5.2M511.6 240.3h5.2M514.2 237.7v5.2M511.5 246.0h5.2M514.1 243.4v5.2M536.6 250.9h5.2M539.2 248.3v5.2M511.4 254.1h5.2M514.0 251.5v5.2M511.8 244.3h5.2M514.4 241.7v5.2M528.2 236.0h5.2M530.8 233.4v5.2M528.5 240.3h5.2M531.1 237.7v5.2M511.5 243.0h5.2M514.1 240.4v5.2M524.2 251.6h5.2M526.8 249.0v5.2M524.2 237.8h5.2M526.8 235.2v5.2M519.7 252.2h5.2M522.3 249.6v5.2M507.3 241.9h5.2M509.9 239.3v5.2M532.8 250.0h5.2M535.4 247.4v5.2M528.6 245.4h5.2M531.2 242.8v5.2M515.5 250.5h5.2M518.1 247.9v5.2M524.4 237.8h5.2M527.0 235.2v5.2M507.4 246.0h5.2M510.0 243.4v5.2M507.5 251.6h5.2M510.1 249.0v5.2M511.7 239.8h5.2M514.3 237.2v5.2M511.5 239.1h5.2M514.1 236.5v5.2M511.9 234.6h5.2M514.5 232.0v5.2M515.5 251.9h5.2M518.1 249.3v5.2M532.4 237.8h5.2M535.0 235.2v5.2M528.6 241.9h5.2M531.2 239.3v5.2M528.6 240.5h5.2M531.2 237.9v5.2M515.8 245.3h5.2M518.4 242.7v5.2M511.8 254.2h5.2M514.4 251.6v5.2M532.8 255.9h5.2M535.4 253.3v5.2M528.7 251.6h5.2M531.3 249.0v5.2M511.9 255.2h5.2M514.5 252.6v5.2M521.4 250.2h5.2M524.0 247.6v5.2M521.3 245.4h5.2M523.9 242.8v5.2M525.4 241.2h5.2M528.0 238.6v5.2M534.1 243.8h5.2M536.7 241.2v5.2M533.9 243.3h5.2M536.5 240.7v5.2M521.4 250.6h5.2M524.0 248.0v5.2M529.9 251.3h5.2M532.5 248.7v5.2M525.9 250.9h5.2M528.5 248.3v5.2M521.5 253.5h5.2M524.1 250.9v5.2M521.3 241.8h5.2M523.9 239.2v5.2M529.6 242.4h5.2M532.2 239.8v5.2M534.1 242.2h5.2M536.7 239.6v5.2M525.9 245.1h5.2M528.5 242.5v5.2M529.9 254.0h5.2M532.5 251.4v5.2M538.2 242.8h5.2M540.8 240.2v5.2M534.3 244.1h5.2M536.9 241.5v5.2M538.4 240.0h5.2M541.0 237.4v5.2M525.5 242.1h5.2M528.1 239.5v5.2M525.8 244.9h5.2M528.4 242.3v5.2M538.4 251.3h5.2M541.0 248.7v5.2M521.5 242.4h5.2M524.1 239.8v5.2M521.7 253.4h5.2M524.3 250.8v5.2M534.2 250.3h5.2M536.8 247.7v5.2M538.5 245.4h5.2M541.1 242.8v5.2M529.5 253.5h5.2M532.1 250.9v5.2M537.9 250.7h5.2M540.5 248.1v5.2M538.0 247.3h5.2M540.6 244.7v5.2M525.7 241.4h5.2M528.3 238.8v5.2M525.9 252.5h5.2M528.5 249.9v5.2M525.3 243.0h5.2M527.9 240.4v5.2M537.9 246.4h5.2M540.5 243.8v5.2M533.7 250.9h5.2M536.3 248.3v5.2M538.5 243.5h5.2M541.1 240.9v5.2M525.5 253.6h5.2M528.1 251.0v5.2M521.6 245.8h5.2M524.2 243.2v5.2M521.4 247.2h5.2M524.0 244.6v5.2M526.0 254.4h5.2M528.6 251.8v5.2M529.6 239.8h5.2M532.2 237.2v5.2M530.2 249.5h5.2M532.8 246.9v5.2M521.3 249.8h5.2M523.9 247.2v5.2M521.5 249.7h5.2M524.1 247.1v5.2M521.5 238.7h5.2M524.1 236.1v5.2M534.2 246.3h5.2M536.8 243.7v5.2M529.9 246.1h5.2M532.5 243.5v5.2M521.7 252.4h5.2M524.3 249.8v5.2M525.9 241.0h5.2M528.5 238.4v5.2M534.3 250.9h5.2M536.9 248.3v5.2M530.0 247.7h5.2M532.6 245.1v5.2M521.2 241.8h5.2M523.8 239.2v5.2M521.3 254.1h5.2M523.9 251.5v5.2" stroke="#e0302a" stroke-width="1.1" fill="none"/>
<path d="M333.0 234.9v6.0M337.1 235.6v6.0M341.3 236.2v6.0M345.4 236.9v6.0M349.6 237.5v6.0M353.7 238.2v6.0M357.9 238.8v6.0M362.0 239.5v6.0M366.2 240.1v6.0M370.3 240.7v6.0M374.5 241.2v6.0M378.6 241.7v6.0M382.8 242.1v6.0M386.9 242.6v6.0M391.1 243.0v6.0M395.2 243.5v6.0M399.4 243.9v6.0M403.5 244.1v6.0M407.7 244.2v6.0M411.8 244.4v6.0M416.0 244.5v6.0M420.1 244.6v6.0M424.3 244.7v6.0M428.4 244.9v6.0M432.6 245.0v6.0M436.7 245.1v6.0M440.9 245.3v6.0M445.0 245.4v6.0M449.2 245.5v6.0M333.0 286.9v6.0M337.1 286.6v6.0M341.3 286.3v6.0M345.4 286.0v6.0M349.6 285.7v6.0M353.7 285.3v6.0M357.9 285.0v6.0M362.0 284.7v6.0M366.2 284.4v6.0M370.3 283.9v6.0M374.5 283.3v6.0M378.6 282.7v6.0M382.8 282.0v6.0M386.9 281.4v6.0M391.1 280.8v6.0M395.2 280.2v6.0M399.4 279.5v6.0M403.5 278.9v6.0M407.7 278.3v6.0M411.8 277.6v6.0M416.0 277.0v6.0M420.1 276.3v6.0M424.3 275.7v6.0M428.4 275.0v6.0M432.6 274.4v6.0M436.7 273.7v6.0M440.9 273.0v6.0M445.0 272.2v6.0M449.2 271.3v6.0M333.0 354.3v6.0M337.1 354.5v6.0M341.3 354.7v6.0M345.4 354.9v6.0M349.6 355.1v6.0M353.7 355.3v6.0M357.9 355.5v6.0M362.0 355.7v6.0M366.2 355.9v6.0M370.3 356.1v6.0M374.5 356.3v6.0M378.6 356.5v6.0M382.8 356.8v6.0M386.9 357.1v6.0M391.1 357.4v6.0M395.2 357.7v6.0M399.4 358.1v6.0M403.5 358.4v6.0M407.7 358.7v6.0M411.8 359.0v6.0M416.0 359.2v6.0M420.1 359.4v6.0M424.3 359.7v6.0M428.4 359.9v6.0M432.6 360.1v6.0M436.7 360.3v6.0M440.9 360.5v6.0M445.0 360.8v6.0M449.2 361.0v6.0M333.0 361.5v6.0M337.1 361.5v6.0M341.3 361.5v6.0M345.4 361.5v6.0M349.6 361.5v6.0M353.7 361.5v6.0M357.9 361.5v6.0M362.0 361.5v6.0M366.2 361.5v6.0M370.3 361.5v6.0M374.5 361.5v6.0M378.6 361.5v6.0M382.8 361.5v6.0M386.9 361.5v6.0M391.1 361.5v6.0M395.2 361.5v6.0M399.4 361.5v6.0M403.5 361.5v6.0M407.7 361.5v6.0M411.8 361.5v6.0M416.0 361.5v6.0M420.1 361.5v6.0M424.3 361.5v6.0M428.4 361.5v6.0M432.6 361.5v6.0M436.7 361.5v6.0M440.9 361.5v6.0M445.0 361.5v6.0M449.2 361.5v6.0M450.6 368.0v6.0M454.8 368.0v6.0M458.9 368.0v6.0M463.0 368.0v6.0M467.2 368.0v6.0M471.3 368.0v6.0M475.5 368.0v6.0M479.6 368.0v6.0M483.8 368.0v6.0M487.9 368.0v6.0M492.1 368.0v6.0M496.2 368.0v6.0M500.4 368.0v6.0M504.5 368.0v6.0M508.7 368.0v6.0M512.8 368.0v6.0M517.0 368.0v6.0M521.1 368.0v6.0M525.3 368.0v6.0M529.4 368.0v6.0M533.6 368.0v6.0M537.7 368.0v6.0M463.6 250.8v6.0M467.8 251.0v6.0M471.9 251.1v6.0M476.0 251.3v6.0M480.2 251.4v6.0M484.3 251.6v6.0M488.5 251.8v6.0M492.6 251.9v6.0M496.8 252.1v6.0M500.9 252.3v6.0M505.1 252.4v6.0M509.2 252.6v6.0M513.4 252.7v6.0M517.5 252.9v6.0M521.7 253.1v6.0M525.8 253.2v6.0M530.0 253.4v6.0M534.1 253.6v6.0M538.3 253.7v6.0M468.3 223.7v6.0M471.3 225.8v6.0M474.3 227.9v6.0M477.3 230.0v6.0M480.3 231.5v6.0M483.3 232.8v6.0M486.3 233.9v6.0M489.3 235.2v6.0M492.3 236.5v6.0M495.3 237.7v6.0M498.3 238.8v6.0M501.3 240.0v6.0M465.4 300.3v6.0M468.4 295.4v6.0M471.4 290.9v6.0M474.4 287.3v6.0M477.4 284.1v6.0M480.4 281.2v6.0M483.4 278.9v6.0M486.4 276.7v6.0M489.4 274.4v6.0M492.4 272.3v6.0M454.5 223.1v6.0M459.7 224.2v6.0M456.6 228.3v6.0M458.7 234.6v6.0M454.5 255.3v6.0M455.6 259.5v6.0M458.7 279.2v6.0M458.9 283.0v6.0M454.5 289.5v6.0M456.6 294.7v6.0M462.8 236.6v6.0M462.8 241.8v6.0M463.9 246.0v6.0M462.8 260.5v6.0M460.7 266.7v6.0M462.8 269.8v6.0M464.2 279.0v6.0M451.4 267.8v6.0M451.8 273.7v6.0M453.6 289.1v6.0M455.9 293.8v6.0M497.1 227.3v6.0M501.8 227.3v6.0M505.9 227.3v6.0M517.7 227.3v6.0M526.6 227.3v6.0M531.9 227.3v6.0M535.4 227.3v6.0M540.1 227.3v6.0M530.8 252.9v6.0M539.1 244.8v6.0M530.8 247.5v6.0M497.0 251.6v6.0M522.3 233.9v6.0M526.5 243.7v6.0M522.7 239.7v6.0M530.6 237.2v6.0M530.5 245.1v6.0M531.0 245.3v6.0M513.5 247.8v6.0M534.5 233.6v6.0M539.0 250.6v6.0M521.9 252.7v6.0M517.8 250.8v6.0M522.5 235.8v6.0M509.3 232.3v6.0M526.2 252.1v6.0M509.8 232.6v6.0M534.8 232.7v6.0M493.5 236.7v6.0M493.5 250.8v6.0M497.1 259.7v6.0M501.2 256.7v6.0M516.5 259.7v6.0M515.4 265.6v6.0M530.7 263.2v6.0M534.8 260.9v6.0M494.7 267.3v6.0M516.5 260.8v6.0M530.7 263.7v6.0M534.8 260.8v6.0M514.8 266.1v6.0M495.3 267.8v6.0M500.6 274.3v6.0M501.2 277.3v6.0M511.8 273.2v6.0M513.6 274.3v6.0M509.5 277.9v6.0M516.5 279.6v6.0M521.2 277.3v6.0M523.6 272.0v6.0M524.8 273.7v6.0M530.7 270.8v6.0M528.9 275.5v6.0M531.9 277.9v6.0M534.2 275.5v6.0M539.5 277.9v6.0M540.7 283.2v6.0M501.2 283.2v6.0M497.1 286.1v6.0M505.3 286.1v6.0M502.4 289.7v6.0M517.7 286.7v6.0M527.1 287.9v6.0M535.4 285.0v6.0M517.7 300.3v6.0M517.7 303.8v6.0M501.8 303.8v6.0M501.6 333.4v6.0M518.0 330.9v6.0M518.0 337.5v6.0M501.6 354.9v6.0M505.7 355.7v6.0M518.0 354.0v6.0M527.1 350.7v6.0M534.6 351.6v6.0M539.5 352.4v6.0M455.9 355.3v6.0M465.4 348.2v6.0M466.5 351.8v6.0M468.3 354.1v6.0M471.3 355.9v6.0" stroke="#e2574c" stroke-width="1.0" fill="none"/>
<path d="M330.5 237.9h5.0M334.6 238.6h5.0M338.8 239.2h5.0M342.9 239.9h5.0M347.1 240.5h5.0M351.2 241.2h5.0M355.4 241.8h5.0M359.5 242.5h5.0M363.7 243.1h5.0M367.8 243.7h5.0M372.0 244.2h5.0M376.1 244.7h5.0M380.3 245.1h5.0M384.4 245.6h5.0M388.6 246.0h5.0M392.7 246.5h5.0M396.9 246.9h5.0M401.0 247.1h5.0M405.2 247.2h5.0M409.3 247.4h5.0M413.5 247.5h5.0M417.6 247.6h5.0M421.8 247.7h5.0M425.9 247.9h5.0M430.1 248.0h5.0M434.2 248.1h5.0M438.4 248.3h5.0M442.5 248.4h5.0M446.7 248.5h5.0M330.5 289.9h5.0M334.6 289.6h5.0M338.8 289.3h5.0M342.9 289.0h5.0M347.1 288.7h5.0M351.2 288.3h5.0M355.4 288.0h5.0M359.5 287.7h5.0M363.7 287.4h5.0M367.8 286.9h5.0M372.0 286.3h5.0M376.1 285.7h5.0M380.3 285.0h5.0M384.4 284.4h5.0M388.6 283.8h5.0M392.7 283.2h5.0M396.9 282.5h5.0M401.0 281.9h5.0M405.2 281.3h5.0M409.3 280.6h5.0M413.5 280.0h5.0M417.6 279.3h5.0M421.8 278.7h5.0M425.9 278.0h5.0M430.1 277.4h5.0M434.2 276.7h5.0M438.4 276.0h5.0M442.5 275.2h5.0M446.7 274.3h5.0M330.5 357.3h5.0M334.6 357.5h5.0M338.8 357.7h5.0M342.9 357.9h5.0M347.1 358.1h5.0M351.2 358.3h5.0M355.4 358.5h5.0M359.5 358.7h5.0M363.7 358.9h5.0M367.8 359.1h5.0M372.0 359.3h5.0M376.1 359.5h5.0M380.3 359.8h5.0M384.4 360.1h5.0M388.6 360.4h5.0M392.7 360.7h5.0M396.9 361.1h5.0M401.0 361.4h5.0M405.2 361.7h5.0M409.3 362.0h5.0M413.5 362.2h5.0M417.6 362.4h5.0M421.8 362.7h5.0M425.9 362.9h5.0M430.1 363.1h5.0M434.2 363.3h5.0M438.4 363.5h5.0M442.5 363.8h5.0M446.7 364.0h5.0M330.5 364.5h5.0M334.6 364.5h5.0M338.8 364.5h5.0M342.9 364.5h5.0M347.1 364.5h5.0M351.2 364.5h5.0M355.4 364.5h5.0M359.5 364.5h5.0M363.7 364.5h5.0M367.8 364.5h5.0M372.0 364.5h5.0M376.1 364.5h5.0M380.3 364.5h5.0M384.4 364.5h5.0M388.6 364.5h5.0M392.7 364.5h5.0M396.9 364.5h5.0M401.0 364.5h5.0M405.2 364.5h5.0M409.3 364.5h5.0M413.5 364.5h5.0M417.6 364.5h5.0M421.8 364.5h5.0M425.9 364.5h5.0M430.1 364.5h5.0M434.2 364.5h5.0M438.4 364.5h5.0M442.5 364.5h5.0M446.7 364.5h5.0M448.1 371.0h5.0M452.2 371.0h5.0M456.4 371.0h5.0M460.5 371.0h5.0M464.7 371.0h5.0M468.8 371.0h5.0M473.0 371.0h5.0M477.1 371.0h5.0M481.3 371.0h5.0M485.4 371.0h5.0M489.6 371.0h5.0M493.7 371.0h5.0M497.9 371.0h5.0M502.0 371.0h5.0M506.2 371.0h5.0M510.3 371.0h5.0M514.5 371.0h5.0M518.6 371.0h5.0M522.8 371.0h5.0M526.9 371.0h5.0M531.1 371.0h5.0M535.2 371.0h5.0M461.1 253.8h5.0M465.2 254.0h5.0M469.4 254.1h5.0M473.5 254.3h5.0M477.7 254.4h5.0M481.8 254.6h5.0M486.0 254.8h5.0M490.1 254.9h5.0M494.3 255.1h5.0M498.4 255.3h5.0M502.6 255.4h5.0M506.7 255.6h5.0M510.9 255.7h5.0M515.0 255.9h5.0M519.2 256.1h5.0M523.3 256.2h5.0M527.5 256.4h5.0M531.6 256.6h5.0M535.8 256.7h5.0M465.8 226.7h5.0M468.8 228.8h5.0M471.8 230.9h5.0M474.8 233.0h5.0M477.8 234.5h5.0M480.8 235.8h5.0M483.8 236.9h5.0M486.8 238.2h5.0M489.8 239.5h5.0M492.8 240.7h5.0M495.8 241.8h5.0M498.8 243.0h5.0M462.9 303.3h5.0M465.9 298.4h5.0M468.9 293.9h5.0M471.9 290.3h5.0M474.9 287.1h5.0M477.9 284.2h5.0M480.9 281.9h5.0M483.9 279.7h5.0M486.9 277.4h5.0M489.9 275.3h5.0M452.0 226.1h5.0M457.2 227.2h5.0M454.1 231.3h5.0M456.2 237.6h5.0M452.0 258.3h5.0M453.1 262.5h5.0M456.2 282.2h5.0M456.4 286.0h5.0M452.0 292.5h5.0M454.1 297.7h5.0M460.3 239.6h5.0M460.3 244.8h5.0M461.4 249.0h5.0M460.3 263.5h5.0M458.2 269.7h5.0M460.3 272.8h5.0M461.7 282.0h5.0M448.9 270.8h5.0M449.3 276.7h5.0M451.1 292.1h5.0M453.4 296.8h5.0M494.6 230.3h5.0M499.3 230.3h5.0M503.4 230.3h5.0M515.2 230.3h5.0M524.1 230.3h5.0M529.4 230.3h5.0M532.9 230.3h5.0M537.6 230.3h5.0M528.3 255.9h5.0M536.6 247.8h5.0M528.3 250.5h5.0M494.5 254.6h5.0M519.8 236.9h5.0M524.0 246.7h5.0M520.2 242.7h5.0M528.1 240.2h5.0M528.0 248.1h5.0M528.5 248.3h5.0M511.0 250.8h5.0M532.0 236.6h5.0M536.5 253.6h5.0M519.4 255.7h5.0M515.3 253.8h5.0M520.0 238.8h5.0M506.8 235.3h5.0M523.7 255.1h5.0M507.3 235.6h5.0M532.3 235.7h5.0M491.0 239.7h5.0M491.0 253.8h5.0M494.6 262.7h5.0M498.7 259.7h5.0M514.0 262.7h5.0M512.9 268.6h5.0M528.2 266.2h5.0M532.3 263.9h5.0M492.2 270.3h5.0M514.0 263.8h5.0M528.2 266.7h5.0M532.3 263.8h5.0M512.3 269.1h5.0M492.8 270.8h5.0M498.1 277.3h5.0M498.7 280.3h5.0M509.3 276.2h5.0M511.1 277.3h5.0M507.0 280.9h5.0M514.0 282.6h5.0M518.7 280.3h5.0M521.1 275.0h5.0M522.3 276.7h5.0M528.2 273.8h5.0M526.4 278.5h5.0M529.4 280.9h5.0M531.7 278.5h5.0M537.0 280.9h5.0M538.2 286.2h5.0M498.7 286.2h5.0M494.6 289.1h5.0M502.8 289.1h5.0M499.9 292.7h5.0M515.2 289.7h5.0M524.6 290.9h5.0M532.9 288.0h5.0M515.2 303.3h5.0M515.2 306.8h5.0M499.3 306.8h5.0M499.1 336.4h5.0M515.5 333.9h5.0M515.5 340.5h5.0M499.1 357.9h5.0M503.2 358.7h5.0M515.5 357.0h5.0M524.6 353.7h5.0M532.1 354.6h5.0M537.0 355.4h5.0M453.4 358.3h5.0M462.9 351.2h5.0M464.0 354.8h5.0M465.8 357.1h5.0M468.8 358.9h5.0" stroke="#8a3826" stroke-width="1.35" fill="none"/>
<path d="M59.5 5.0H267.0V152.3H59.5Z" stroke="#505050" stroke-width="1.2" fill="none"/>
<path d="M59.5 39.3h2M267.0 39.3h-2M59.5 75.9h2M267.0 75.9h-2M59.5 112.5h2M267.0 112.5h-2M59.5 149.1h2M267.0 149.1h-2M163.2 152.3v-2M163.2 5.0v2" stroke="#505050" stroke-width="1" fill="none"/>
<text transform="translate(52.0 149.7) scale(1 1.045)" y="5.66" text-anchor="end" class="t">0</text>
<text transform="translate(52.0 113.1) scale(1 1.045)" y="5.66" text-anchor="end" class="t">2</text>
<text transform="translate(52.0 76.5) scale(1 1.045)" y="5.66" text-anchor="end" class="t">4</text>
<text transform="translate(52.0 39.9) scale(1 1.045)" y="5.66" text-anchor="end" class="t">6</text>
<text transform="translate(59.3 171.83) scale(1 1.045)" y="5.66" text-anchor="middle" class="t">2</text>
<text transform="translate(163.2 171.83) scale(1 1.045)" y="5.66" text-anchor="middle" class="t">2.5</text>
<text transform="translate(267.9 171.83) scale(1 1.045)" y="5.66" text-anchor="middle" class="t">3</text>
<text x="163.8" y="198.3" text-anchor="middle" class="c">c</text>
<text transform="translate(27.6 80.0) rotate(-90)" text-anchor="middle" y="5.5" class="yl"><tspan font-style="italic">x</tspan>(<tspan font-style="italic">t</tspan>)</text>
<path d="M333.0 5.5H540.5V152.6H333.0Z" stroke="#505050" stroke-width="1.2" fill="none"/>
<path d="M333.0 29.9h2M540.5 29.9h-2M333.0 62.8h2M540.5 62.8h-2M333.0 95.6h2M540.5 95.6h-2M333.0 128.5h2M540.5 128.5h-2M436.7 152.6v-2M436.7 5.5v2" stroke="#505050" stroke-width="1" fill="none"/>
<text transform="translate(325.8 129.1) scale(1 1.045)" y="5.66" text-anchor="end" class="t">0</text>
<text transform="translate(325.8 96.2) scale(1 1.045)" y="5.66" text-anchor="end" class="t">2</text>
<text transform="translate(325.8 63.4) scale(1 1.045)" y="5.66" text-anchor="end" class="t">4</text>
<text transform="translate(325.8 30.5) scale(1 1.045)" y="5.66" text-anchor="end" class="t">6</text>
<text transform="translate(332.8 171.83) scale(1 1.045)" y="5.66" text-anchor="middle" class="t">2</text>
<text transform="translate(436.7 171.83) scale(1 1.045)" y="5.66" text-anchor="middle" class="t">2.5</text>
<text transform="translate(541.4 171.83) scale(1 1.045)" y="5.66" text-anchor="middle" class="t">3</text>
<text x="437.4" y="198.3" text-anchor="middle" class="c">c</text>
<text transform="translate(301.4 79.3) rotate(-90)" text-anchor="middle" y="5.5" class="yl"><tspan font-style="italic">y</tspan>(<tspan font-style="italic">t</tspan>)</text>
<path d="M59.5 226.5H267.0V374.4H59.5Z" stroke="#505050" stroke-width="1.2" fill="none"/>
<path d="M59.5 300.5h2M267.0 300.5h-2M163.2 374.4v-2M163.2 226.5v2" stroke="#505050" stroke-width="1" fill="none"/>
<text transform="translate(51.8 375.0) scale(1 1.045)" y="5.66" text-anchor="end" class="t">0</text>
<text transform="translate(51.8 301.1) scale(1 1.045)" y="5.66" text-anchor="end" class="t">0.2</text>
<text transform="translate(51.8 227.1) scale(1 1.045)" y="5.66" text-anchor="end" class="t">0.4</text>
<text transform="translate(59.3 393.53) scale(1 1.045)" y="5.66" text-anchor="middle" class="t">2</text>
<text transform="translate(163.2 393.53) scale(1 1.045)" y="5.66" text-anchor="middle" class="t">2.5</text>
<text transform="translate(267.9 393.53) scale(1 1.045)" y="5.66" text-anchor="middle" class="t">3</text>
<text x="163.8" y="418.9" text-anchor="middle" class="c">c</text>
<text transform="translate(14.2 300.5) rotate(-90)" text-anchor="middle" y="5.5" class="yl"><tspan font-style="italic">z</tspan>(<tspan font-style="italic">t</tspan>)</text>
<path d="M333.0 226.4H540.5V374.3H333.0Z" stroke="#505050" stroke-width="1.2" fill="none"/>
<path d="M333.0 250.0h2M540.5 250.0h-2M333.0 309.0h2M540.5 309.0h-2M333.0 368.1h2M540.5 368.1h-2M436.7 374.3v-2M436.7 226.4v2" stroke="#505050" stroke-width="1" fill="none"/>
<text transform="translate(326.0 368.7) scale(1 1.045)" y="5.66" text-anchor="end" class="t">0</text>
<text transform="translate(326.0 309.6) scale(1 1.045)" y="5.66" text-anchor="end" class="t">1</text>
<text transform="translate(326.0 250.6) scale(1 1.045)" y="5.66" text-anchor="end" class="t">2</text>
<text transform="translate(332.8 393.53) scale(1 1.045)" y="5.66" text-anchor="middle" class="t">2</text>
<text transform="translate(436.7 393.53) scale(1 1.045)" y="5.66" text-anchor="middle" class="t">2.5</text>
<text transform="translate(541.4 393.53) scale(1 1.045)" y="5.66" text-anchor="middle" class="t">3</text>
<text x="437.4" y="418.9" text-anchor="middle" class="c">c</text>
<text transform="translate(301.0 301.0) rotate(-90)" text-anchor="middle" y="5.5" class="yl"><tspan font-style="italic">w</tspan>(<tspan font-style="italic">t</tspan>)</text>
</svg>
</body></html>
